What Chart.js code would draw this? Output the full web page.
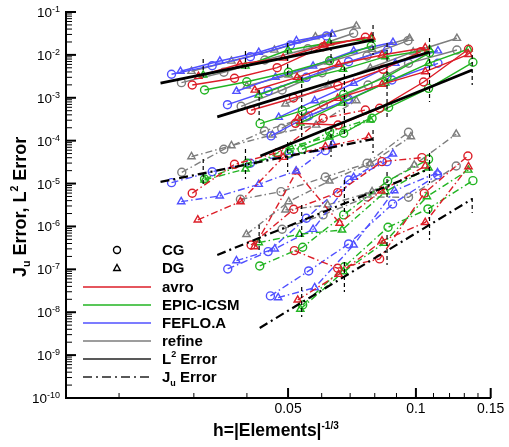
<!DOCTYPE html>
<html><head><meta charset="utf-8">
<style>html,body{margin:0;padding:0;background:#fff}canvas{display:block}</style>
<script src="https://cdn.jsdelivr.net/npm/chart.js@4"></script>
</head><body><canvas id="c" width="509" height="447"></canvas>
<script>
// Series values: [h, error]. L2 = L² error, Ju = output error; a/b/c = mesh families
const avroCG_L2a=[[.02974,1.99e-3],[.0374,2.85e-3],[.04713,5.03e-3],[.06045,1.55e-2],[.07603,2.57e-2]];
const avroDG_L2a=[[.03076,3.17e-3],[.03848,6.13e-3],[.04868,8.47e-3],[.06088,1.7e-2],[.07853,2.61e-2]];
const epicCG_L2a=[[.03179,1.52e-3],[.03997,2.37e-3],[.0501,3.93e-3],[.06264,7.32e-3],[.07853,1.61e-2]];
const epicDG_L2a=[[.03156,3.4e-3],[.03969,5.51e-3],[.05,1.3e-2],[.06264,1.92e-2],[.07853,2.35e-2]];
const fefloCG_L2a=[[.02658,3.53e-3],[.03314,5.6e-3],[.04076,9.08e-3],[.05063,1.7e-2],[.06155,2.76e-2]];
const fefloDG_L2a=[[.0279,4.15e-3],[.03453,7.21e-3],[.04265,1.15e-2],[.05232,2.14e-2],[.06347,3.07e-2]];
const refineCG_L2a=[[.02805,2.25e-3],[.03529,3.93e-3],[.04407,7.6e-3],[.05567,1.39e-2],[.07135,3.19e-2]];
const refineDG_L2a=[[.02962,4.15e-3],[.03678,7.21e-3],[.04644,1.3e-2],[.05799,2.65e-2],[.0724,4.72e-2]];

const avroCG_L2b=[[.04092,5.11e-4],[.05147,9.9e-4],[.0655,1.93e-3],[.08368,4.61e-3],[.10274,1.19e-2]];
const avroDG_L2b=[[.04174,1.52e-3],[.05251,3e-3],[.06578,6.04e-3],[.08322,9.95e-3],[.1052,1.47e-2]];
const epicCG_L2b=[[.04297,2.49e-4],[.05403,5e-4],[.06759,1.2e-3],[.08551,3.1e-3],[.10766,1.12e-2]];
const epicDG_L2b=[[.04265,1.16e-3],[.05324,2.6e-3],[.06737,4.61e-3],[.08473,9.08e-3],[.10766,1.33e-2]];
const fefloCG_L2b=[[.036,6.9e-4],[.04488,1.44e-3],[.05522,3e-3],[.06943,6.94e-3],[.08578,1.3e-2]];
const fefloDG_L2b=[[.0378,1.42e-3],[.0467,3e-3],[.05726,5.51e-3],[.07135,1.23e-2],[.0883,1.97e-2]];
const refineCG_L2b=[[.03877,6.33e-4],[.04841,1.52e-3],[.06012,3.84e-3],[.07673,9.43e-3],[.09577,2.14e-2]];
const refineDG_L2b=[[.03997,1.88e-3],[.05018,3.4e-3],[.06221,6.83e-3],[.07883,1.35e-2],[.09658,2.44e-2]];

const avroCG_L2c=[[.05204,2.54e-4],[.06557,2.32e-4],[.08214,5.69e-4],[.10423,2.33e-3],[.13298,1.35e-2]];
const avroDG_L2c=[[.05268,3.33e-4],[.06543,9.74e-4],[.08322,2.06e-3],[.1052,4.06e-3],[.13298,1.03e-2]];
const epicCG_L2c=[[.05394,6.3e-5],[.06759,1.49e-4],[.08624,6e-4],[.10709,1.66e-3],[.13621,6.72e-3]];
const epicDG_L2c=[[.05344,2.59e-4],[.06711,7.56e-4],[.08473,2.21e-3],[.10709,6.37e-3],[.13298,1.37e-2]];
const fefloCG_L2c=[[.0456,1.29e-4],[.05591,3.77e-4],[.06943,9.23e-4],[.08784,2.6e-3],[.1127,6.37e-3]];
const fefloDG_L2c=[[.04753,3.51e-4],[.05776,8.55e-4],[.07135,2.18e-3],[.08944,6.37e-3],[.1127,1.25e-2]];
const refineCG_L2c=[[.04831,1.94e-4],[.06055,6.8e-4],[.07714,1.99e-3],[.09607,6.37e-3],[.12489,1.3e-2]];
const refineDG_L2c=[[.0493,7.17e-4],[.06221,1.99e-3],[.07809,4.95e-3],[.09856,1.17e-2],[.12489,2.44e-2]];

const avroCG_Jua=[[.02974,5.94e-6],[.0374,2.81e-5],[.0472,5.25e-5],[.06045,3.33e-4],[.07603,5.19e-4]];
const avroDG_Jua=[[.03065,1.42e-6],[.03862,3.79e-6],[.04868,4.1e-5],[.06122,7.25e-5],[.07739,1.2e-4]];
const epicCG_Jua=[[.03179,1.28e-5],[.04005,2.97e-5],[.05018,5.08e-5],[.06264,1.62e-4],[.07883,3.33e-4]];
const epicDG_Jua=[[.03179,1.21e-5],[.03969,2.19e-5],[.05063,7.25e-5],[.06254,1.22e-4],[.07809,3.04e-4]];
const fefloCG_Jua=[[.02658,1.05e-5],[.03314,1.89e-5],[.04076,2.97e-5],[.05036,4.9e-5],[.06122,5.85e-5]];
const fefloDG_Jua=[[.02801,3.79e-6],[.03453,5.14e-6],[.04265,9.63e-6],[.05223,1.97e-5],[.06368,8.38e-5]];
const refineCG_Jua=[[.0281,1.83e-5],[.03529,6.3e-5],[.044,1.68e-4],[.05522,3.57e-4],[.06895,8.88e-4]];
const refineDG_Jua=[[.02962,4.24e-5],[.03678,7.65e-5],[.04594,1.36e-4],[.05821,2.32e-4],[.0724,8.55e-4]];

const avroCG_Jub=[[.04092,3.7e-7],[.05156,2.52e-6],[.06543,6.13e-6],[.08322,3.24e-5],[.10331,4.02e-5]];
const avroDG_Jub=[[.04167,3.38e-7],[.05232,1.89e-5],[.06613,1.19e-6],[.0829,6.72e-6],[.1052,2.57e-5]];
const epicCG_Jub=[[.04288,1.2e-7],[.05412,3.27e-7],[.06759,1.86e-6],[.08578,1.15e-5],[.10709,3.68e-5]];
const epicDG_Jub=[[.04265,4.19e-7],[.05324,6.58e-7],[.067,8.29e-7],[.08473,6.47e-6],[.10709,2.31e-5]];
const fefloCG_Jub=[[.03605,1.02e-7],[.04488,2.59e-7],[.05522,1.55e-6],[.06943,1.21e-5],[.08551,3.24e-5]];
const fefloDG_Jub=[[.0378,1.59e-7],[.04652,2.99e-7],[.05726,8.6e-7],[.07135,1.4e-5],[.0883,4.9e-5]];
const refineCG_Jub=[[.03862,4.3e-6],[.04812,6.47e-6],[.06122,1.42e-5],[.07673,2.97e-5],[.09607,1.57e-4]];
const refineDG_Jub=[[.0399,6.51e-7],[.05018,3.79e-6],[.06254,1.15e-5],[.07809,2.97e-5],[.09732,1.24e-4]];

const avroCG_Juc=[[.05175,2.73e-7],[.06543,1.06e-7],[.08214,1.75e-7],[.10463,5.94e-6],[.13256,4.4e-5]];
const avroDG_Juc=[[.05268,1.93e-8],[.06578,7.69e-8],[.08322,4.59e-7],[.1052,1.24e-6],[.13298,2.48e-5]];
const epicCG_Juc=[[.05412,1.48e-8],[.06785,1.15e-7],[.08597,9.58e-7],[.10674,2.56e-6],[.13621,1.17e-5]];
const epicDG_Juc=[[.05344,1.18e-8],[.06759,8.84e-8],[.08395,4.06e-7],[.10617,4.95e-6],[.1329,2.07e-5]];
const fefloCG_Juc=[[.04543,2.4e-8],[.05591,9.18e-8],[.06943,3.91e-7],[.08813,3.34e-6],[.11246,1.59e-5]];
const fefloDG_Juc=[[.04738,2.19e-8],[.05776,3.74e-8],[.07135,3.7e-7],[.08895,6.83e-6],[.11246,1.79e-5]];
const refineCG_Juc=[[.04841,8.6e-7],[.06045,1.86e-6],[.07673,4.87e-6],[.09607,4.79e-6],[.12442,2.57e-5]];
const refineDG_Juc=[[.0493,2.43e-6],[.06198,3.17e-6],[.07883,6.47e-6],[.0991,2.71e-5],[.12442,1.43e-4]];

// Reference convergence lines
const refL2a=[[.02504,2.21e-3],[.07926,2.23e-2]];
const refL2b=[[.03406,3.57e-4],[.10766,1.17e-2]];
const refL2c=[[.04304,4.4e-5],[.13568,4.44e-3]];
const refJua=[[.02504,1.09e-5],[.07926,1.09e-4]];
const refJub=[[.03406,2.16e-7],[.10766,2.19e-5]];
const refJuc=[[.04288,4.3e-9],[.13568,4.37e-6]];

// Vertical dashed spans at mesh sizes: h, upper error, lower error
const spanH=[.03156,.03969,.04989,.06311,.07926,.04274,.05383,.06785,.08551,.10766,.13568,
             .03156,.03969,.04989,.06311,.07926,.04274,.05383,.06785,.08551,.10766,.05383,.06785,.08551,.10766,.13568];
const spanTop=[8e-3,1.23e-2,1.89e-2,3.24e-2,4.98e-2,1.52e-3,3.05e-3,5.22e-3,1.89e-2,2.48e-2,9.95e-3,
               3.74e-5,6.41e-5,9.32e-5,2.08e-4,1.77e-4,1.08e-6,3.17e-6,1.21e-5,1.87e-5,5.17e-5,3.89e-8,1.49e-7,6.33e-7,2.43e-6,4.61e-6];
const spanBot=[2.6e-3,4.44e-3,3.05e-3,6.47e-3,9.95e-3,3.04e-4,1.22e-4,1.22e-4,3.38e-4,7.98e-4,1.99e-3,
               8.33e-6,1.28e-5,1.87e-5,4.17e-5,5.17e-5,2.41e-7,5.69e-7,2.06e-6,4.87e-6,1.03e-5,7.77e-9,2.97e-8,1.27e-7,4.84e-7,2.06e-6];

// Axis ticks
const xMajor=[.05,.1,.15];
const xMinor=[.02,.03,.04,.06,.07,.08,.09,.11,.12,.13,.14];
const yExponents=[-1,-2,-3,-4,-5,-6,-7,-8,-9,-10];
const yMinorDigits=[2,3,4,5,6,7,8,9];

const legendNames=['CG','DG','avro','EPIC-ICSM','FEFLO.A','refine'];

const RED='#dc1e28',GREEN='#22b422',BLUE='#5050ff',GREY='#7d7d7d';
const DASH=[7,3,1.5,3],BLACKDASH=[9,4,2,4];
const toPts=a=>a.map(p=>({x:p[0],y:p[1]}));
function series(a,col,mk,ju){return {data:toPts(a),borderColor:col,backgroundColor:'rgba(0,0,0,0)',
  pointBorderColor:col,pointBackgroundColor:'rgba(0,0,0,0)',pointStyle:mk==='CG'?'circle':'triangle',
  pointRadius:mk==='CG'?4:4.2,pointBorderWidth:1.4,borderWidth:1.4,borderDash:ju?DASH:[],showLine:true,tension:0};}
function refLine(a,ju){return {data:toPts(a),borderColor:'#000',borderWidth:ju?2.2:2.8,borderDash:ju?BLACKDASH:[],pointRadius:0,showLine:true,tension:0};}
const spanData=[];
spanH.forEach((h,i)=>{spanData.push({x:h,y:spanTop[i]},{x:h,y:spanBot[i]},{x:NaN,y:NaN});});

const datasets=[
  refLine(refL2a),refLine(refL2b),refLine(refL2c),refLine(refJua,true),refLine(refJub,true),refLine(refJuc,true),
  {data:spanData,borderColor:'#000',borderWidth:1.2,borderDash:[4,3],pointRadius:0,showLine:true,spanGaps:false},
];
[[avroCG_L2a,RED,'CG'],[avroDG_L2a,RED,'DG'],[epicCG_L2a,GREEN,'CG'],[epicDG_L2a,GREEN,'DG'],[fefloCG_L2a,BLUE,'CG'],[fefloDG_L2a,BLUE,'DG'],[refineCG_L2a,GREY,'CG'],[refineDG_L2a,GREY,'DG'],
 [avroCG_L2b,RED,'CG'],[avroDG_L2b,RED,'DG'],[epicCG_L2b,GREEN,'CG'],[epicDG_L2b,GREEN,'DG'],[fefloCG_L2b,BLUE,'CG'],[fefloDG_L2b,BLUE,'DG'],[refineCG_L2b,GREY,'CG'],[refineDG_L2b,GREY,'DG'],
 [avroCG_L2c,RED,'CG'],[avroDG_L2c,RED,'DG'],[epicCG_L2c,GREEN,'CG'],[epicDG_L2c,GREEN,'DG'],[fefloCG_L2c,BLUE,'CG'],[fefloDG_L2c,BLUE,'DG'],[refineCG_L2c,GREY,'CG'],[refineDG_L2c,GREY,'DG']
].forEach(s=>datasets.push(series(s[0],s[1],s[2],false)));
[[avroCG_Jua,RED,'CG'],[avroDG_Jua,RED,'DG'],[epicCG_Jua,GREEN,'CG'],[epicDG_Jua,GREEN,'DG'],[fefloCG_Jua,BLUE,'CG'],[fefloDG_Jua,BLUE,'DG'],[refineCG_Jua,GREY,'CG'],[refineDG_Jua,GREY,'DG'],
 [avroCG_Jub,RED,'CG'],[avroDG_Jub,RED,'DG'],[epicCG_Jub,GREEN,'CG'],[epicDG_Jub,GREEN,'DG'],[fefloCG_Jub,BLUE,'CG'],[fefloDG_Jub,BLUE,'DG'],[refineCG_Jub,GREY,'CG'],[refineDG_Jub,GREY,'DG'],
 [avroCG_Juc,RED,'CG'],[avroDG_Juc,RED,'DG'],[epicCG_Juc,GREEN,'CG'],[epicDG_Juc,GREEN,'DG'],[fefloCG_Juc,BLUE,'CG'],[fefloDG_Juc,BLUE,'DG'],[refineCG_Juc,GREY,'CG'],[refineDG_Juc,GREY,'DG']
].forEach(s=>datasets.push(series(s[0],s[1],s[2],true)));

const FONT='"Liberation Sans",Arial,sans-serif';
function pieces(ctx,x,y,parts){ // [text, size, bold, dy]
  parts.forEach(p=>{ctx.font=(p[2]?'bold ':'')+p[1]+'px '+FONT;ctx.fillText(p[0],x,y+(p[3]||0));x+=ctx.measureText(p[0]).width;});
  return x;
}
const decor={id:'decor',afterDraw(chart){
  const ctx=chart.ctx,xs=chart.scales.x,ys=chart.scales.y,a=chart.chartArea;
  ctx.save();ctx.fillStyle='#000';ctx.strokeStyle='#000';
  const tick=(x1,y1,x2,y2,w)=>{ctx.lineWidth=w;ctx.setLineDash([]);ctx.beginPath();ctx.moveTo(x1,y1);ctx.lineTo(x2,y2);ctx.stroke();};
  xMajor.forEach(v=>{const x=xs.getPixelForValue(v);tick(x,a.bottom,x,a.bottom-10,2);});
  xMinor.forEach(v=>{const x=xs.getPixelForValue(v);tick(x,a.bottom,x,a.bottom-5,1);});
  yExponents.forEach(k=>{
    const y=ys.getPixelForValue(Math.pow(10,k));tick(a.left,y,a.left+10,y,2);
    if(k<-1) yMinorDigits.forEach(d=>{const ym=ys.getPixelForValue(d*Math.pow(10,k));tick(a.left,ym,a.left+6,ym,1);});
    const ex=String(k);ctx.textBaseline='alphabetic';ctx.textAlign='left';
    ctx.font='9px '+FONT;const ew=ctx.measureText(ex).width;
    ctx.font='13.5px '+FONT;const bw=ctx.measureText('10').width;
    pieces(ctx,60-ew-bw,y+5,[['10',13.5,false],[ex,9,false,-5]]);
  });
  // x title
  ctx.textAlign='left';ctx.textBaseline='alphabetic';
  pieces(ctx,213,436,[['h=|Elements|',17.5,true],['-1/3',10,true,-7]]);
  // y title
  ctx.save();ctx.translate(26,277);ctx.rotate(-Math.PI/2);
  pieces(ctx,0,0,[['J',18,true],['u',10.5,true,4],[' Error, L',18,true],['2',10.5,true,-8],[' Error',18,true]]);
  ctx.restore();
  // legend
  const rows=[250,268,287,305,323,341,359,377];
  ctx.lineWidth=1.4;ctx.strokeStyle='#000';
  ctx.beginPath();ctx.arc(117,rows[0],3.5,0,Math.PI*2);ctx.stroke();
  ctx.beginPath();ctx.moveTo(117,rows[1]-3.5);ctx.lineTo(120.3,rows[1]+2.5);ctx.lineTo(113.7,rows[1]+2.5);ctx.closePath();ctx.stroke();
  [RED,GREEN,BLUE,GREY,'#222','#222'].forEach((c,i)=>{
    ctx.strokeStyle=c;ctx.lineWidth=1.6;ctx.setLineDash(i===5?[9,4,2,4]:[]);
    ctx.beginPath();ctx.moveTo(83,rows[i+2]);ctx.lineTo(151,rows[i+2]);ctx.stroke();
  });
  ctx.setLineDash([]);ctx.fillStyle='#000';
  legendNames.forEach((t,i)=>pieces(ctx,162,rows[i]+5,[[t,15,true]]));
  pieces(ctx,162,rows[6]+5,[['L',15,true],['2',9,true,-7],[' Error',15,true]]);
  pieces(ctx,162,rows[7]+5,[['J',15,true],['u',9,true,4],[' Error',15,true]]);
  ctx.restore();
}};

new Chart(document.getElementById('c'),{type:'scatter',data:{datasets},plugins:[decor],options:{
  responsive:false,animation:false,
  layout:{padding:{left:0,top:12,right:18.3,bottom:0}},
  plugins:{legend:{display:false},tooltip:{enabled:false},title:{display:false}},
  scales:{
    x:{type:'logarithmic',min:.015,max:.15,
      afterFit(s){s.height=49;},
      afterBuildTicks(s){s.ticks=xMajor.map(v=>({value:v,major:true}));},
      border:{display:true,width:2,color:'#000'},
      grid:{drawOnChartArea:false,drawTicks:false},
      ticks:{autoSkip:false,maxRotation:0,padding:3,color:'#000',font:{family:'"Liberation Sans"',size:14},callback:v=>String(v)}},
    y:{type:'logarithmic',min:1e-10,max:.1,
      afterFit(s){s.width=66;},
      border:{display:true,width:2,color:'#000'},
      grid:{drawOnChartArea:false,drawTicks:false},
      ticks:{display:false}}
  }
}});
</script></body></html>
